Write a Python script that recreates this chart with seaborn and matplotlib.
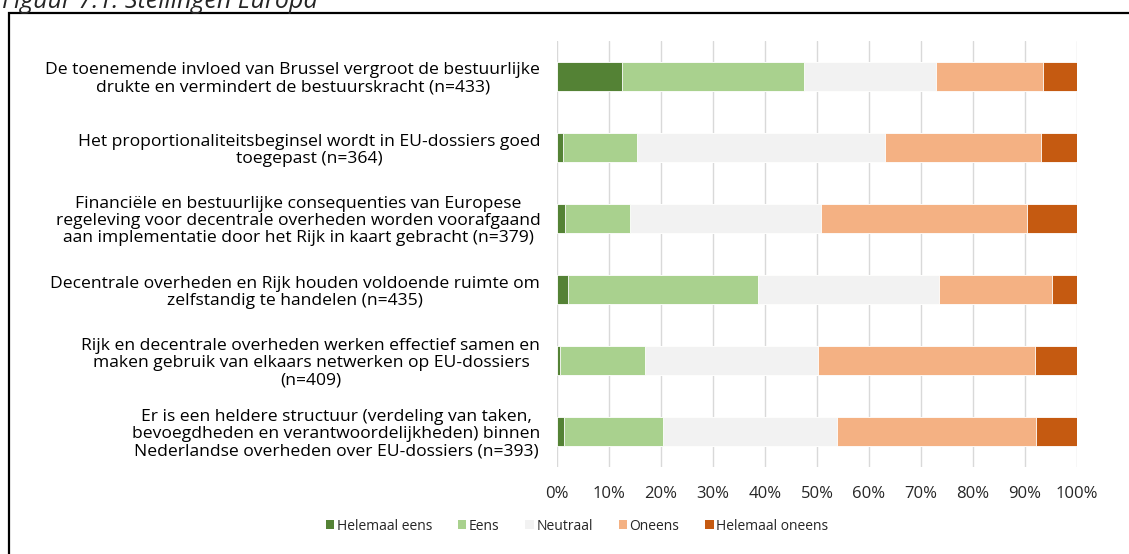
import numpy as np
import pandas as pd
import matplotlib
matplotlib.use("Agg")
import matplotlib.pyplot as plt
import seaborn as sns
from matplotlib.patches import Rectangle, Patch

# =========================
# data
# =========================
statements = [
    "De toenemende invloed van Brussel vergroot de bestuurlijke\ndrukte en vermindert de bestuurskracht (n=433)",
    "Het proportionaliteitsbeginsel wordt in EU-dossiers goed\ntoegepast (n=364)",
    "Financiële en bestuurlijke consequenties van Europese\nregeleving voor decentrale overheden worden voorafgaand\naan implementatie door het Rijk in kaart gebracht (n=379)",
    "Decentrale overheden en Rijk houden voldoende ruimte om\nzelfstandig te handelen (n=435)",
    "Rijk en decentrale overheden werken effectief samen en\nmaken gebruik van elkaars netwerken op EU-dossiers\n(n=409)",
    "Er is een heldere structuur (verdeling van taken,\nbevoegdheden en verantwoordelijkheden) binnen\nNederlandse overheden over EU-dossiers (n=393)",
]
answers = ["Helemaal eens", "Eens", "Neutraal", "Oneens", "Helemaal oneens"]

helemaal_eens = [12.5, 1.1, 1.6, 2.1, 0.5, 1.3]
eens = [35.0, 14.3, 12.4, 36.5, 16.4, 19.0]
neutraal = [25.4, 47.6, 36.8, 34.8, 33.2, 33.5]
oneens = [20.6, 30.1, 39.6, 21.7, 41.8, 38.3]
helemaal_oneens = [6.5, 6.9, 9.6, 4.9, 8.1, 7.9]

colors = ["#548235", "#A9D18E", "#F2F2F2", "#F4B183", "#C55A11"]

df = pd.DataFrame(
    {
        "stelling": statements,
        "Helemaal eens": helemaal_eens,
        "Eens": eens,
        "Neutraal": neutraal,
        "Oneens": oneens,
        "Helemaal oneens": helemaal_oneens,
    }
)
cum = df[answers].cumsum(axis=1)
cum = cum.div(cum["Helemaal oneens"], axis=0) * 100

# =========================
# plot
# =========================
sns.set_style("white")
plt.rcParams["font.family"] = ["Open Sans", "DejaVu Sans"]
plt.rcParams["font.size"] = 12

fig = plt.figure(figsize=(11.29, 5.54), dpi=100)
ax = fig.add_axes([557 / 1129, 1 - 467 / 554, 520 / 1129, 426 / 554])

# stacked bars: draw cumulative totals from the back to the front
for ans, col in zip(answers[::-1], colors[::-1]):
    sns.barplot(
        x=cum[ans], y=df["stelling"], orient="h", color=col, saturation=1,
        width=0.41, ax=ax, zorder=2, linewidth=0.6, edgecolor="white",
    )

ax.set_xlim(0, 100)
ax.set_xticks(np.arange(0, 101, 10))
ax.set_xticklabels([f"{v}%" for v in range(0, 101, 10)], fontsize=12, color="#262626")
ax.grid(axis="x", color="#D9D9D9", linewidth=1, zorder=0)
ax.set_axisbelow(True)
ax.set_xlabel("")
ax.set_ylabel("")
for s in ax.spines.values():
    s.set_visible(False)
ax.tick_params(axis="both", length=0)
ax.tick_params(axis="y", pad=12)
ax.tick_params(axis="x", pad=14)
for lab in ax.get_yticklabels():
    lab.set_multialignment("center")
    lab.set_fontsize(12.6)
    lab.set_linespacing(1.1)
    lab.set_color("#000000")

handles = [Patch(facecolor=c, edgecolor="none") for c in colors]
fig.legend(
    handles, answers, loc="center", bbox_to_anchor=(577 / 1129, 1 - 526 / 554),
    ncol=5, frameon=False, fontsize=10, handlelength=0.6, handleheight=0.6,
    handletextpad=0.2, columnspacing=1.85,
)

# frame and caption
fig.patches.append(
    Rectangle((9 / 1129, -0.1), 1.2, 1 - 13 / 554 + 0.1, transform=fig.transFigure,
              fill=False, edgecolor="black", linewidth=1.6, clip_on=False)
)
fig.text(2 / 1129, 1 - 8 / 554, "Figuur 7.1: Stellingen Europa", fontsize=18,
         style="italic", va="baseline", ha="left")

fig.savefig("out.png", dpi=100, facecolor="white")
